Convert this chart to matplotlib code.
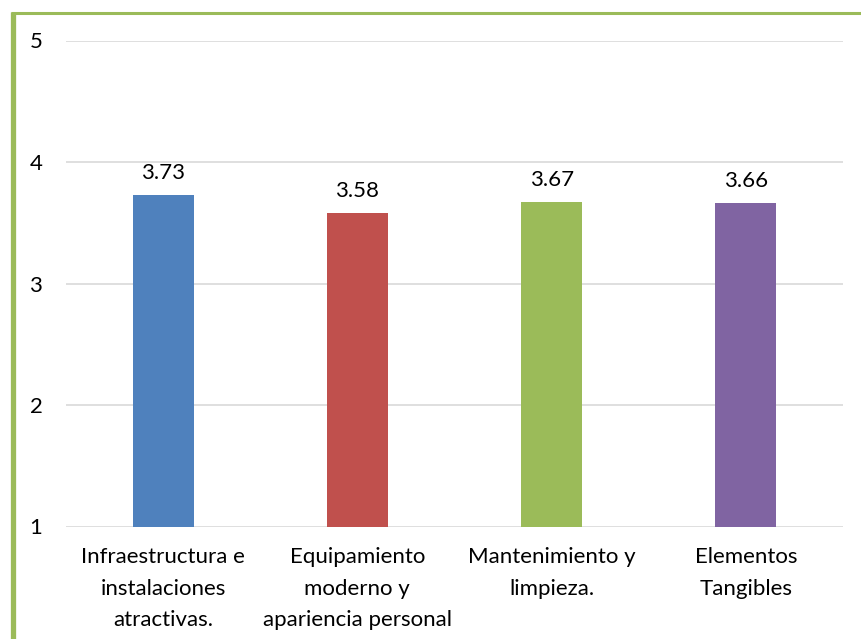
import matplotlib
matplotlib.use("Agg")
import matplotlib.pyplot as plt
from matplotlib.lines import Line2D

categories = ["Infraestructura e\ninstalaciones\natractivas.",
              "Equipamiento\nmoderno y\napariencia personal",
              "Mantenimiento y\nlimpieza.",
              "Elementos\nTangibles"]
values = [3.73, 3.58, 3.67, 3.66]
value_labels = ["3.73", "3.58", "3.67", "3.66"]
colors = ["#4F81BD", "#C0504D", "#9BBB59", "#8064A2"]
yticks = [1, 2, 3, 4, 5]

plt.rcParams['font.family'] = ['Lato', 'DejaVu Sans']
FS = 16

fig = plt.figure(figsize=(8.62, 6.39), dpi=100)
W, H = 862, 639
ax = fig.add_axes([66 / W, 1 - 526.5 / H, (843 - 66) / W, (526.5 - 40.5) / H])

x = list(range(len(categories)))
ax.bar(x, [v - 1 for v in values], bottom=1, width=0.315, color=colors, zorder=3)
for xi, v, lab in zip(x, values, value_labels):
    ax.annotate(lab, (xi, v), xytext=(0, 16), textcoords="offset points",
                ha="center", va="center", fontsize=FS, color="#000000")

ax.set_xlim(-0.5, len(categories) - 0.5)
ax.set_ylim(1, 5)
ax.set_yticks(yticks)
ax.set_yticklabels([str(t) for t in yticks], fontsize=FS)
ax.set_xticks(x)
ax.set_xticklabels(categories, fontsize=FS, linespacing=1.72)
ax.tick_params(axis="both", length=0)
ax.tick_params(axis="y", pad=17)
ax.tick_params(axis="x", pad=15)
ax.grid(axis="y", color="#D9D9D9", linewidth=1.2, zorder=0)
for s in ax.spines.values():
    s.set_visible(False)

# green chart border (left and top visible)
fig.add_artist(Line2D([13.5 / W, 13.5 / W], [0, 1 - 12 / H], transform=fig.transFigure,
                      color="#9BBB59", linewidth=3.8, solid_capstyle="butt"))
fig.add_artist(Line2D([11.5 / W, 1], [1 - 12.5 / H, 1 - 12.5 / H], transform=fig.transFigure,
                      color="#9BBB59", linewidth=2.2, solid_capstyle="butt"))

fig.savefig("out.png", dpi=100)
